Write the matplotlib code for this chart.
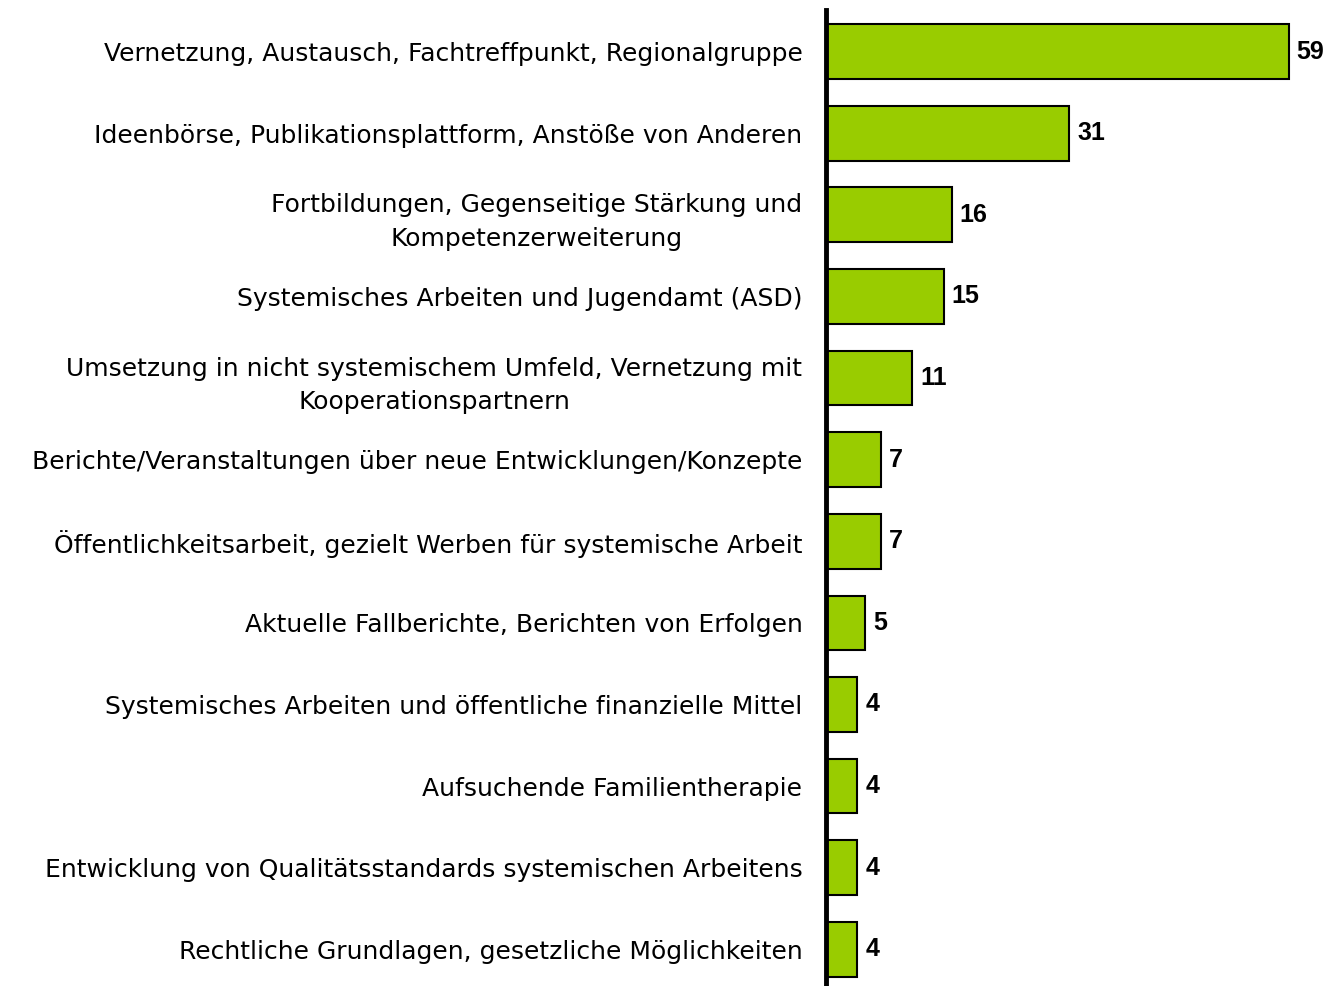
import matplotlib
matplotlib.use("Agg")
import matplotlib.pyplot as plt

categories = [
    "Vernetzung, Austausch, Fachtreffpunkt, Regionalgruppe",
    "Ideenbörse, Publikationsplattform, Anstöße von Anderen",
    "Fortbildungen, Gegenseitige Stärkung und\nKompetenzerweiterung",
    "Systemisches Arbeiten und Jugendamt (ASD)",
    "Umsetzung in nicht systemischem Umfeld, Vernetzung mit\nKooperationspartnern",
    "Berichte/Veranstaltungen über neue Entwicklungen/Konzepte",
    "Öffentlichkeitsarbeit, gezielt Werben für systemische Arbeit",
    "Aktuelle Fallberichte, Berichten von Erfolgen",
    "Systemisches Arbeiten und öffentliche finanzielle Mittel",
    "Aufsuchende Familientherapie",
    "Entwicklung von Qualitätsstandards systemischen Arbeitens",
    "Rechtliche Grundlagen, gesetzliche Möglichkeiten",
]
values = [59, 31, 16, 15, 11, 7, 7, 5, 4, 4, 4, 4]

fig = plt.figure(figsize=(13.28, 9.86), dpi=100)
ax = fig.add_axes([826 / 1328, 0.0, 502 / 1328, 976 / 986])

pos = list(range(len(values)))
ax.barh(pos, values, height=0.67, color="#99CC00", edgecolor="black", linewidth=1.5, zorder=2)
ax.set_ylim(11.45, -0.51)
ax.set_xlim(0, 64)

# value labels next to the bars
for p, v in zip(pos, values):
    ax.text(v + 1.0, p, str(v), va="center", ha="left", fontsize=18,
            fontweight="bold", family="Liberation Sans")

ax.set_yticks(pos)
ax.set_yticklabels(categories, fontsize=18, family="DejaVu Sans", ha="right",
                   multialignment="center", linespacing=1.52)
ax.tick_params(axis="y", length=0, pad=17)
ax.set_xticks([])

for s in ["top", "right", "bottom"]:
    ax.spines[s].set_visible(False)
ax.spines["left"].set_linewidth(3.5)
ax.spines["left"].set_zorder(3)

fig.savefig("out.png", dpi=100)
